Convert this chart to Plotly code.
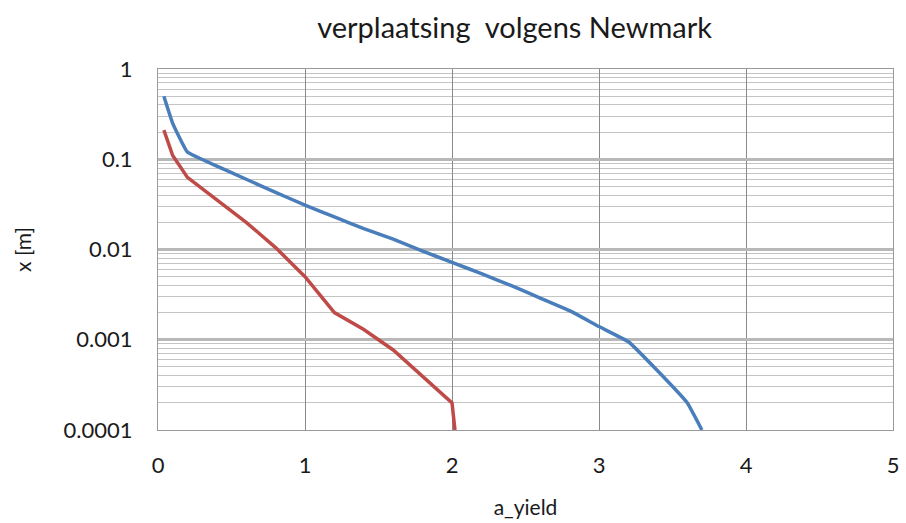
import plotly.graph_objects as go

# a_yield values and Newmark displacement x [m] for the two curves
a_blue = [0.04, 0.1, 0.2, 0.4, 0.6, 0.8, 1.0, 1.2, 1.4, 1.6, 1.8, 2.0,
          2.2, 2.4, 2.6, 2.8, 3.0, 3.2, 3.4, 3.6, 3.7]
x_blue = [0.5, 0.25, 0.12, 0.084, 0.06, 0.043, 0.031, 0.023, 0.017, 0.013,
          0.0096, 0.0072, 0.0054, 0.0040, 0.0029, 0.0021, 0.0014, 0.00095,
          0.00045, 0.0002, 0.0001]

a_red = [0.04, 0.1, 0.2, 0.4, 0.6, 0.8, 1.0, 1.2, 1.4, 1.6, 1.8, 2.0, 2.02]
x_red = [0.21, 0.11, 0.063, 0.035, 0.02, 0.0105, 0.005, 0.002, 0.0013,
         0.00077, 0.00039, 0.0002, 0.0001]

x_ticks = [0, 1, 2, 3, 4, 5]
y_ticks = [1, 0.1, 0.01, 0.001, 0.0001]
y_tick_text = ["1", "0.1", "0.01", "0.001", "0.0001"]

FONT = "Lato, Liberation Sans, Arial"

fig = go.Figure()
fig.add_trace(go.Scatter(x=a_blue, y=x_blue, mode="lines",
                         line=dict(color="#4A7EBB", width=3.5, shape="spline",
                                   smoothing=0.3),
                         showlegend=False))
fig.add_trace(go.Scatter(x=a_red, y=x_red, mode="lines",
                         line=dict(color="#BE4B48", width=3.5),
                         showlegend=False))

fig.update_layout(
    width=906, height=523,
    margin=dict(l=158, r=7, t=69, b=93),
    paper_bgcolor="white", plot_bgcolor="white",
    title=dict(text="verplaatsing  volgens Newmark", x=0.568, xanchor="center",
               y=0.947, yanchor="middle",
               font=dict(family=FONT, size=29, color="#1a1a1a")),
    font=dict(family=FONT, color="#1a1a1a"),
    xaxis=dict(range=[0, 5], tickvals=x_ticks, ticks="", showline=True,
               linecolor="#9a9a9a", linewidth=1, mirror=True,
               showgrid=True, gridcolor="#8a8a8a", gridwidth=1,
               zeroline=False, tickfont=dict(size=22), ticklabelstandoff=16,
               title=dict(text="a_yield", font=dict(size=21), standoff=22)),
    yaxis=dict(type="log", range=[-4, 0], tickvals=y_ticks,
               ticktext=y_tick_text, ticks="", showline=True,
               linecolor="#9a9a9a", linewidth=1, mirror=True,
               showgrid=True, gridcolor="#b8b8b8", gridwidth=2.5,
               tickfont=dict(size=22), ticklabelstandoff=20,
               minor=dict(dtick="D1", showgrid=True, gridcolor="#c4c4c4",
                          gridwidth=1.2),
               title=dict(text="x [m]", font=dict(size=21), standoff=26)),
)

fig.write_html("out.html")
